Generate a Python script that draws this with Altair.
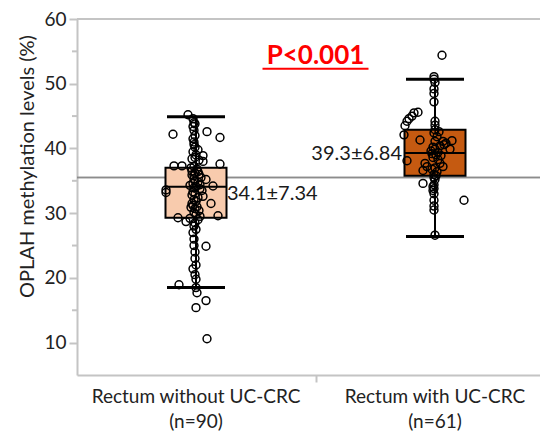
import altair as alt
import pandas as pd

# ---------------- data ----------------
groups = ["Rectum without UC-CRC\n(n=90)", "Rectum with UC-CRC\n(n=61)"]
group_pos = [0, 1]
q1 = [29.3, 35.8]
median = [34.1, 39.3]
q3 = [37.0, 42.9]
whisk_lo = [18.5, 26.4]
whisk_hi = [44.9, 50.7]
mean_sd = ["34.1±7.34", "39.3±6.84"]
fills = ["#F8CBAD", "#C55A11"]

left_vals = [45.2, 44.6, 44.0, 43.4, 42.8, 42.2, 42.6, 41.7, 42.0, 41.0,
             40.2, 39.5, 39.0, 38.9, 38.0, 38.4, 37.3, 37.3, 37.6, 37.2,
             36.8, 36.5, 36.2, 36.0, 35.8, 35.5, 35.2, 35.0, 34.8, 34.6,
             34.4, 34.2, 34.1, 33.9, 33.6, 33.2, 33.5, 33.0, 32.8, 32.6,
             32.4, 32.1, 31.8, 31.5, 31.2, 31.0, 30.7, 30.4, 30.1, 29.8,
             29.6, 29.5, 29.3, 29.2, 28.7, 29.0, 28.5, 28.0, 27.5, 27.0,
             26.0, 24.9, 25.0, 24.0, 23.0, 21.4, 22.0, 20.5, 19.8, 18.95,
             18.5, 17.7, 16.5, 15.4, 10.6, 35.9, 34.3, 33.3, 36.4, 37.0,
             30.9, 35.3, 33.8, 31.5, 38.6, 43.8, 40.6, 39.8, 41.5, 38.2]
# horizontal jitter (screen px)
left_jitter = [-8, -3, -2, -3, -2, -23, 11, 24, -1, -2,
               -1, -3, 0, 7, 7, -4, -22, -14, 24, -2,
               1, -4, -1, 3, -2, 5, 10, -1, 2, -3,
               4, 17, 0, -2, -30, -30, 6, -1, -4, 7,
               2, -2, 0, 15, -3, 1, -1, 3, -2, 0,
               22, 4, -18, -6, -10, 2, -1, -2, 0, -3,
               -2, 10, -2, -1, -1, -3, 0, -1, 0, -17,
               0, 1, 10, 0, 11, -4, -6, -3, 2, -5,
               -5, -2, 4, -4, -1, -1, -2, 2, -3, 3]

right_vals = [54.4, 51.1, 50.7, 50.2, 49.2, 48.5, 47.2, 45.6, 45.5, 45.0,
              44.6, 44.2, 43.5, 42.1, 44.2, 43.6, 42.9, 42.4, 41.3, 41.1,
              41.1, 41.2, 40.8, 40.4, 39.9, 39.9, 39.4, 39.2, 39.0, 38.6,
              38.1, 37.7, 37.2, 36.6, 37.7, 37.2, 36.4, 36.0, 35.8, 35.5,
              35.2, 34.6, 34.1, 33.8, 33.5, 33.0, 32.0, 32.0, 31.1, 30.5,
              26.6, 40.2, 38.3, 39.6, 41.8, 37.0, 40.6, 36.8, 38.9, 34.4,
              42.6]
right_jitter = [7, -1, -1, 0, -1, -1, -1, -17, -21, -23,
                -26, -28, -30, -31, 0, 0, 0, -1, -15, 0,
                8, 17, 11, 5, 15, 0, 3, -3, 1, -2,
                -28, -10, -8, -12, 5, 8, 2, -1, 1, -1,
                0, -12, -2, -1, -2, -1, 29, -1, -1, -1,
                0, -2, 3, -4, 2, 0, 9, -3, 6, -1,
                4]

ref_value = 35.5
p_text = "P<0.001"
y_ticks = [10, 20, 30, 40, 50, 60]
y_minor = [15, 25, 35, 45, 55]

assert len(left_vals) == len(left_jitter), (len(left_vals), len(left_jitter))
assert len(right_vals) == len(right_jitter), (len(right_vals), len(right_jitter))

# ---------------- tables ----------------
W, H = 463, 356
UNIT = 239.0  # px per category step

summary = pd.DataFrame({
    "group": groups, "g": group_pos, "q1": q1, "median": median, "q3": q3,
    "lo": whisk_lo, "hi": whisk_hi, "label": mean_sd,
})
pts = pd.DataFrame({
    "group": [groups[0]] * len(left_vals) + [groups[1]] * len(right_vals),
    "g": [0] * len(left_vals) + [1] * len(right_vals),
    "v": left_vals + right_vals,
    "j": left_jitter + right_jitter,
})
minor_df = pd.DataFrame({"v": y_minor})

FONT = "Lato"
GRAY = "#C4C4C4"
xs = alt.Scale(domain=[-119 / UNIT, (W - 119) / UNIT], nice=False, zero=False)
ys = alt.Scale(domain=[5, 60], nice=False, zero=False)
col = alt.Color("group:N", scale=alt.Scale(domain=groups, range=fills), legend=None)

base = alt.Chart(summary).transform_calculate(
    bl="datum.g - 30.5/239", br="datum.g + 30.5/239",
    cl="datum.g - 29/239", cr="datum.g + 29/239",
)

ref = alt.Chart(summary).mark_rule(color="#8C8C8C", strokeWidth=1.5).encode(
    y=alt.datum(ref_value, scale=ys))
top = alt.Chart(summary).mark_rule(color=GRAY, strokeWidth=2).encode(
    y=alt.datum(60, scale=ys))

whisk = base.mark_rule(color="black", strokeWidth=2).encode(
    x=alt.X("g:Q", scale=xs,
            axis=alt.Axis(values=[0.5], labels=False, title=None, tickSize=7,
                          tickColor=GRAY, tickWidth=2, domainColor=GRAY,
                          domainWidth=2, grid=False)),
    y=alt.Y("lo:Q", scale=ys,
            axis=alt.Axis(values=y_ticks, title="OPLAH methylation levels (%)",
                          titleX=-50, titleY=147, titleAlign="center",
                          titleBaseline="middle", titleFont=FONT, titleFontSize=20,
                          titleFontWeight="normal", titleColor="#222",
                          labelFont=FONT, labelFontSize=19, labelColor="#222",
                          labelPadding=3, tickSize=8, tickColor=GRAY, tickWidth=2,
                          domainColor=GRAY, domainWidth=2, grid=False)),
    y2="hi:Q",
)
box = base.mark_rect(stroke="black", strokeWidth=2).encode(
    x=alt.X("bl:Q", scale=xs), x2="br:Q",
    y=alt.Y("q1:Q", scale=ys), y2="q3:Q", color=col)
med = base.mark_rule(color="black", strokeWidth=2).encode(
    x=alt.X("bl:Q", scale=xs), x2="br:Q", y=alt.Y("median:Q", scale=ys))
cap_lo = base.mark_rule(color="black", strokeWidth=3).encode(
    x=alt.X("cl:Q", scale=xs), x2="cr:Q", y=alt.Y("lo:Q", scale=ys))
cap_hi = base.mark_rule(color="black", strokeWidth=3).encode(
    x=alt.X("cl:Q", scale=xs), x2="cr:Q", y=alt.Y("hi:Q", scale=ys))

points = alt.Chart(pts).transform_calculate(
    xp="datum.g + datum.j/239"
).mark_point(shape="circle", filled=False, size=62, stroke="black",
             strokeWidth=1.5, opacity=1).encode(
    x=alt.X("xp:Q", scale=xs), y=alt.Y("v:Q", scale=ys))

lab_left = base.transform_filter("datum.g == 0").mark_text(
    font=FONT, fontSize=20, color="#1a1a1a", align="left", baseline="middle",
    dx=31, dy=7).encode(x=alt.X("g:Q", scale=xs), y=alt.Y("median:Q", scale=ys),
                        text="label:N")
lab_right = base.transform_filter("datum.g == 1").mark_text(
    font=FONT, fontSize=20, color="#1a1a1a", align="right", baseline="middle",
    dx=-33, dy=1).encode(x=alt.X("g:Q", scale=xs), y=alt.Y("median:Q", scale=ys),
                         text="label:N")

xlab = base.mark_text(font=FONT, fontSize=19, color="#222", align="center",
                      baseline="alphabetic", lineBreak="\n", lineHeight=25).encode(
    x=alt.X("g:Q", scale=xs), y=alt.value(H + 28), text="group:N")

minor = alt.Chart(minor_df).mark_rule(color=GRAY, strokeWidth=2).encode(
    x=alt.value(-5), x2=alt.value(0), y=alt.Y("v:Q", scale=ys))

ptxt = alt.Chart(summary).transform_filter("datum.g == 0").mark_text(
    font=FONT, fontSize=26, fontWeight="bold", color="#FF0000",
    align="center", baseline="middle").encode(
    x=alt.datum(0.5, scale=xs), y=alt.datum(54.3, scale=ys), text=alt.value(p_text))
pline = alt.Chart(summary).transform_filter("datum.g == 0").mark_rule(
    color="#FF0000", strokeWidth=2).encode(
    x=alt.datum(0.5 - 53 / UNIT, scale=xs), x2=alt.datum(0.5 + 53 / UNIT),
    y=alt.datum(52.3, scale=ys))

chart = alt.layer(
    whisk, ref, top, box, med, cap_lo, cap_hi, points,
    lab_left, lab_right, xlab, minor, ptxt, pline
).properties(
    width=W, height=H,
    autosize=alt.AutoSizeParams(type="none"),
    padding={"left": 69, "top": 11, "right": 0, "bottom": 58},
).configure_view(stroke=None).configure_axis(labelFont=FONT, titleFont=FONT)

chart.save("out.html", embed_options={"renderer": "svg", "actions": False})
